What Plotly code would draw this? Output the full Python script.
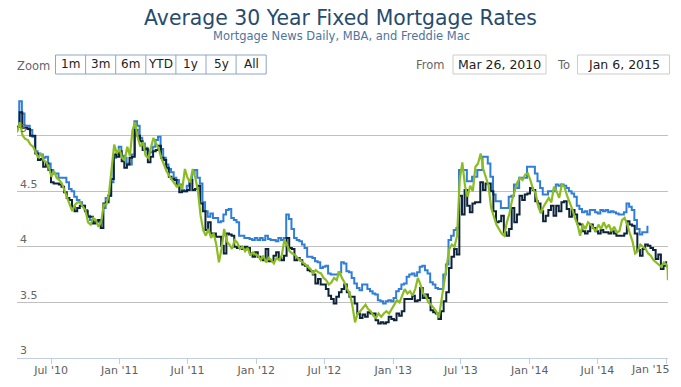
import pandas as pd
import plotly.graph_objects as go

# ---------------- data ----------------
# Freddie Mac weekly (dark navy, stepped) - values per year, weekly from start date
freddie_2010 = [5.08, 5.08, 5.21, 5.07, 5.07, 5.06, 5.00, 5.00, 4.84, 4.78, 4.79, 4.72, 4.75, 4.69,
                4.58, 4.57, 4.57, 4.56, 4.54, 4.49, 4.44, 4.42, 4.36, 4.32, 4.35, 4.37, 4.37, 4.32,
                4.27, 4.27, 4.21, 4.23, 4.24, 4.17, 4.39, 4.40, 4.46, 4.61, 4.83, 4.81, 4.86]
freddie_2011 = [4.77, 4.71, 4.74, 4.80, 4.81, 5.05, 5.00, 4.95, 4.87, 4.88, 4.76, 4.81, 4.86, 4.87,
                4.91, 4.80, 4.78, 4.71, 4.63, 4.61, 4.60, 4.55, 4.49, 4.50, 4.50, 4.51, 4.60, 4.51,
                4.52, 4.55, 4.39, 4.32, 4.15, 4.22, 4.12, 4.12, 4.09, 4.09, 4.01, 3.94, 4.12, 4.11,
                4.10, 4.00, 3.99, 4.00, 3.98, 4.00, 3.99, 3.94, 3.91, 3.95]
freddie_2012 = [3.91, 3.89, 3.88, 3.98, 3.87, 3.87, 3.92, 3.95, 3.90, 3.88, 3.92, 4.08, 3.99, 3.98,
                3.88, 3.90, 3.88, 3.84, 3.83, 3.79, 3.78, 3.75, 3.67, 3.71, 3.66, 3.66, 3.62, 3.56,
                3.53, 3.49, 3.55, 3.59, 3.62, 3.66, 3.59, 3.55, 3.55, 3.49, 3.40, 3.36, 3.39, 3.37,
                3.41, 3.40, 3.40, 3.34, 3.31, 3.32, 3.31, 3.32, 3.37, 3.35]
freddie_2013 = [3.34, 3.40, 3.38, 3.42, 3.53, 3.53, 3.53, 3.56, 3.51, 3.52, 3.63, 3.54, 3.57, 3.54,
                3.43, 3.41, 3.40, 3.35, 3.42, 3.51, 3.59, 3.81, 3.91, 3.98, 3.93, 4.46, 4.29, 4.51,
                4.37, 4.31, 4.39, 4.40, 4.40, 4.58, 4.51, 4.57, 4.57, 4.50, 4.32, 4.22, 4.23, 4.28,
                4.13, 4.10, 4.16, 4.35, 4.22, 4.29, 4.46, 4.42, 4.47, 4.48]
freddie_2014 = [4.53, 4.51, 4.41, 4.39, 4.32, 4.23, 4.28, 4.33, 4.37, 4.28, 4.37, 4.32, 4.40, 4.41,
                4.34, 4.27, 4.33, 4.29, 4.21, 4.20, 4.14, 4.12, 4.14, 4.20, 4.17, 4.14, 4.12, 4.15,
                4.13, 4.13, 4.12, 4.14, 4.12, 4.10, 4.10, 4.10, 4.12, 4.23, 4.20, 4.19, 4.12, 3.97,
                3.92, 3.98, 4.02, 4.01, 3.99, 3.97, 3.89, 3.93, 3.80, 3.83, 3.87]

# MBA weekly (blue, stepped)
mba_2010 = [5.05, 5.08, 5.31, 5.20, 5.09, 5.09, 5.05, 4.99, 4.86, 4.84, 4.83, 4.80, 4.81, 4.75,
            4.69, 4.66, 4.66, 4.62, 4.62, 4.62, 4.58, 4.52, 4.50, 4.45, 4.42, 4.40, 4.37, 4.33,
            4.28, 4.24, 4.22, 4.22, 4.24, 4.22, 4.35, 4.44, 4.46, 4.58, 4.80, 4.84, 4.90]
mba_2011 = [4.82, 4.80, 4.75, 4.74, 4.83, 5.13, 5.09, 4.98, 4.93, 4.89, 4.84, 4.85, 4.90, 4.96,
            4.99, 4.88, 4.80, 4.74, 4.70, 4.67, 4.62, 4.60, 4.56, 4.51, 4.50, 4.55, 4.60, 4.66,
            4.69, 4.62, 4.57, 4.40, 4.32, 4.27, 4.30, 4.26, 4.26, 4.22, 4.23, 4.29, 4.33, 4.34,
            4.26, 4.24, 4.22, 4.10, 4.10, 4.08, 4.08, 4.07, 4.06, 4.08]
mba_2012 = [4.06, 4.08, 4.06, 4.10, 4.07, 4.06, 4.06, 4.05, 4.08, 4.06, 4.08, 4.29, 4.25, 4.16,
            4.08, 4.06, 4.05, 4.02, 3.99, 3.91, 3.91, 3.90, 3.87, 3.86, 3.81, 3.82, 3.83, 3.76,
            3.75, 3.75, 3.75, 3.77, 3.86, 3.85, 3.78, 3.77, 3.72, 3.67, 3.63, 3.61, 3.66, 3.66,
            3.62, 3.60, 3.58, 3.57, 3.52, 3.51, 3.49, 3.51, 3.52, 3.51]
mba_2013 = [3.54, 3.60, 3.62, 3.66, 3.67, 3.73, 3.75, 3.76, 3.74, 3.77, 3.82, 3.83, 3.79, 3.76,
            3.68, 3.66, 3.63, 3.62, 3.62, 3.75, 3.84, 4.06, 4.10, 4.15, 4.17, 4.69, 4.69, 4.69,
            4.59, 4.59, 4.63, 4.63, 4.69, 4.69, 4.81, 4.81, 4.75, 4.63, 4.47, 4.41, 4.41, 4.35,
            4.35, 4.35, 4.45, 4.46, 4.56, 4.53, 4.62, 4.62, 4.62, 4.72]
mba_2014 = [4.72, 4.72, 4.66, 4.59, 4.53, 4.47, 4.47, 4.50, 4.50, 4.50, 4.56, 4.55, 4.56, 4.55,
            4.53, 4.50, 4.48, 4.45, 4.37, 4.34, 4.31, 4.32, 4.29, 4.33, 4.33, 4.31, 4.30, 4.33,
            4.32, 4.33, 4.31, 4.32, 4.31, 4.30, 4.29, 4.29, 4.31, 4.39, 4.36, 4.33, 4.24, 4.16,
            4.11, 4.13, 4.13, 4.19]

# Mortgage News Daily (green)
mnd_2010 = [5.02, 5.04, 5.12, 5.00, 4.97, 4.96, 4.92, 4.90, 4.85, 4.80, 4.84, 4.78, 4.76, 4.72,
            4.63, 4.68, 4.62, 4.60, 4.57, 4.50, 4.44, 4.38, 4.32, 4.38, 4.40, 4.40, 4.36, 4.33,
            4.22, 4.20, 4.26, 4.24, 4.18, 4.22, 4.38, 4.38, 4.48, 4.70, 4.92, 4.84, 4.88]
mnd_2011 = [4.80, 4.78, 4.90, 4.82, 5.05, 5.12, 4.98, 4.90, 4.94, 4.82, 4.80, 4.88, 4.98, 4.93,
            4.88, 4.80, 4.74, 4.68, 4.64, 4.60, 4.57, 4.54, 4.56, 4.52, 4.70, 4.62, 4.58, 4.70,
            4.62, 4.50, 4.28, 4.15, 4.10, 4.16, 4.08, 4.12, 4.02, 3.86, 3.98, 4.16, 4.05, 4.02,
            3.98, 4.06, 4.04, 3.98, 4.00, 3.96, 3.99, 3.92, 3.95, 3.93]
mnd_2012 = [3.92, 3.88, 3.92, 3.86, 3.90, 3.88, 3.85, 3.90, 3.88, 3.92, 4.06, 4.02, 3.96, 3.94,
            3.93, 3.90, 3.88, 3.86, 3.84, 3.82, 3.80, 3.76, 3.79, 3.77, 3.76, 3.72, 3.70, 3.66,
            3.68, 3.72, 3.70, 3.78, 3.72, 3.68, 3.62, 3.58, 3.47, 3.32, 3.40, 3.42, 3.45, 3.48,
            3.44, 3.42, 3.38, 3.36, 3.40, 3.37, 3.40, 3.42, 3.40, 3.44]
mnd_2013 = [3.48, 3.52, 3.50, 3.56, 3.62, 3.58, 3.60, 3.56, 3.62, 3.72, 3.66, 3.58, 3.56, 3.50,
            3.48, 3.45, 3.42, 3.36, 3.52, 3.65, 3.80, 3.98, 4.02, 4.00, 4.10, 4.60, 4.76, 4.55,
            4.45, 4.55, 4.50, 4.72, 4.75, 4.84, 4.70, 4.62, 4.55, 4.35, 4.27, 4.20, 4.16, 4.12,
            4.10, 4.22, 4.30, 4.42, 4.50, 4.58, 4.62, 4.60, 4.65, 4.66]
mnd_2014 = [4.60, 4.52, 4.48, 4.36, 4.30, 4.36, 4.40, 4.44, 4.40, 4.54, 4.50, 4.44, 4.56, 4.54,
            4.46, 4.40, 4.34, 4.26, 4.20, 4.10, 4.20, 4.16, 4.22, 4.20, 4.17, 4.14, 4.20, 4.16,
            4.22, 4.17, 4.20, 4.14, 4.18, 4.13, 4.14, 4.24, 4.26, 4.20, 4.12, 4.05, 3.94, 3.96,
            4.02, 4.00, 3.98, 3.94, 3.92, 3.88, 3.86, 3.84, 3.82, 3.86]
mnd_2015_dates = ["2015-01-02", "2015-01-05", "2015-01-06"]
mnd_2015 = [3.84, 3.80, 3.70]

# axis ticks
x_tick_dates = ["2010-07-01", "2011-01-01", "2011-07-01", "2012-01-01", "2012-07-01",
                "2013-01-01", "2013-07-01", "2014-01-01", "2014-07-01", "2015-01-01"]
x_tick_labels = ["Jul '10", "Jan '11", "Jul '11", "Jan '12", "Jul '12",
                 "Jan '13", "Jul '13", "Jan '14", "Jul '14", "Jan '15"]
y_tick_vals = [3, 3.5, 4, 4.5, 5, 5.5]
y_tick_labels = ["3", "3.5", "4", "4.5", "5"]   # top gridline (5.5) carries no label

zoom_buttons = ["1m", "3m", "6m", "YTD", "1y", "5y", "All"]
date_from = "Mar 26, 2010"
date_to = "Jan 6, 2015"


def weekly(start, values):
    return list(pd.date_range(start, periods=len(values), freq="7D"))


freddie_x = (weekly("2010-03-25", freddie_2010) + weekly("2011-01-06", freddie_2011) +
             weekly("2012-01-05", freddie_2012) + weekly("2013-01-03", freddie_2013) +
             weekly("2014-01-02", freddie_2014))
freddie_y = freddie_2010 + freddie_2011 + freddie_2012 + freddie_2013 + freddie_2014

mba_x = (weekly("2010-03-24", mba_2010) + weekly("2011-01-05", mba_2011) +
         weekly("2012-01-04", mba_2012) + weekly("2013-01-02", mba_2013) +
         weekly("2014-01-01", mba_2014))
mba_y = mba_2010 + mba_2011 + mba_2012 + mba_2013 + mba_2014

mnd_x = (weekly("2010-03-26", mnd_2010) + weekly("2011-01-07", mnd_2011) +
         weekly("2012-01-06", mnd_2012) + weekly("2013-01-04", mnd_2013) +
         weekly("2014-01-03", mnd_2014) + list(pd.to_datetime(mnd_2015_dates)))
mnd_y = mnd_2010 + mnd_2011 + mnd_2012 + mnd_2013 + mnd_2014 + mnd_2015

# ---------------- layout helpers ----------------
W, H = 681, 387
ML, MR, MT, MB = 17, 13, 80, 29
PW, PH = W - ML - MR, H - MT - MB
FONT = "DejaVu Sans, Verdana, sans-serif"


def fx(px):
    return (px - ML) / PW


def fy(py):
    return (H - MB - py) / PH


fig = go.Figure()
fig.add_trace(go.Scatter(x=mba_x, y=mba_y, mode="lines", name="MBA",
                         line=dict(color="#2f7ed8", width=2, shape="hv")))
fig.add_trace(go.Scatter(x=freddie_x, y=freddie_y, mode="lines", name="Freddie Mac",
                         line=dict(color="#0d233a", width=2, shape="hv")))
fig.add_trace(go.Scatter(x=mnd_x, y=mnd_y, mode="lines", name="Mortgage News Daily",
                         line=dict(color="#8bbc21", width=2.2)))

shapes = []
annotations = []


def text(t, px, py, size, color, anchor="center"):
    annotations.append(dict(text=t, x=fx(px), y=fy(py), xref="paper", yref="paper",
                            xanchor=anchor, yanchor="middle", showarrow=False,
                            borderpad=0, font=dict(family=FONT, size=size, color=color)))


# subtitle
text("Mortgage News Daily, MBA, and Freddie Mac", 341, 36, 11.5, "#4d759e")
# zoom label
text("Zoom", 16, 65.5, 11.5, "#666666", "left")
# zoom buttons
btn_left, btn_w, btn_top, btn_bot = 55.5, 30.1, 55, 74
shapes.append(dict(type="rect", xref="paper", yref="paper",
                   x0=fx(btn_left), x1=fx(btn_left + btn_w * len(zoom_buttons)),
                   y0=fy(btn_bot), y1=fy(btn_top), line=dict(color="#8ea6c6", width=1),
                   fillcolor="white"))
for i, lab in enumerate(zoom_buttons):
    if i > 0:
        xx = fx(btn_left + btn_w * i)
        shapes.append(dict(type="line", xref="paper", yref="paper", x0=xx, x1=xx,
                           y0=fy(btn_bot), y1=fy(btn_top), line=dict(color="#8ea6c6", width=1)))
    text(lab, btn_left + btn_w * (i + 0.5), 64.5, 12, "#222222")

# date range inputs
text("From", 446, 65, 11.5, "#666666", "right")
shapes.append(dict(type="rect", xref="paper", yref="paper", x0=fx(453), x1=fx(546),
                   y0=fy(74), y1=fy(55), line=dict(color="#cccccc", width=1), fillcolor="white"))
text(date_from, 499.5, 64.5, 12.5, "#222222")
text("To", 571, 65, 11.5, "#666666", "right")
shapes.append(dict(type="rect", xref="paper", yref="paper", x0=fx(577.5), x1=fx(669.5),
                   y0=fy(74), y1=fy(55), line=dict(color="#cccccc", width=1), fillcolor="white"))
text(date_to, 623.5, 64.5, 12.5, "#222222")

# last x tick label is right-aligned to its tick (as in the reference)
x_tick_text_axis = x_tick_labels[:-1] + [""]
text(x_tick_labels[-1], 670, 369.5, 11, "#606060", "right")

# y tick labels sit inside the plot, just above their gridlines
for v, lab in zip(y_tick_vals, y_tick_labels):
    annotations.append(dict(text=lab, x=fx(19), y=v, xref="paper", yref="y",
                            xanchor="left", yanchor="middle", yshift=7, showarrow=False,
                            borderpad=0, font=dict(family=FONT, size=11, color="#666666")))

fig.update_layout(
    width=W, height=H,
    margin=dict(l=ML, r=MR, t=MT, b=MB, pad=0, autoexpand=False),
    paper_bgcolor="white", plot_bgcolor="white",
    showlegend=False,
    title=dict(text="Average 30 Year Fixed Mortgage Rates", x=0.5, xanchor="center",
               y=1 - 18 / H, yanchor="middle", yref="container", automargin=False,
               font=dict(family=FONT, size=20.4, color="#274b6d")),
    font=dict(family=FONT),
    shapes=shapes,
    annotations=annotations,
    xaxis=dict(type="date", range=["2010-04-01", "2015-01-06"], automargin=False,
               tickvals=x_tick_dates, ticktext=x_tick_text_axis,
               ticks="outside", ticklen=5, tickwidth=1, tickcolor="#C0D0E0",
               ticklabelstandoff=-3,
               showline=True, linecolor="#C0D0E0", linewidth=1,
               showgrid=False, zeroline=False,
               tickfont=dict(family=FONT, size=11, color="#606060")),
    yaxis=dict(range=[2.9995, 5.5005], tickvals=y_tick_vals, showticklabels=False,
               automargin=False, ticks="",
               showgrid=True, gridcolor="#C0C0C0", gridwidth=1,
               showline=False, zeroline=False),
)

fig.write_html("out.html", config={"displayModeBar": False},
               post_script="document.body.style.margin='0';")
